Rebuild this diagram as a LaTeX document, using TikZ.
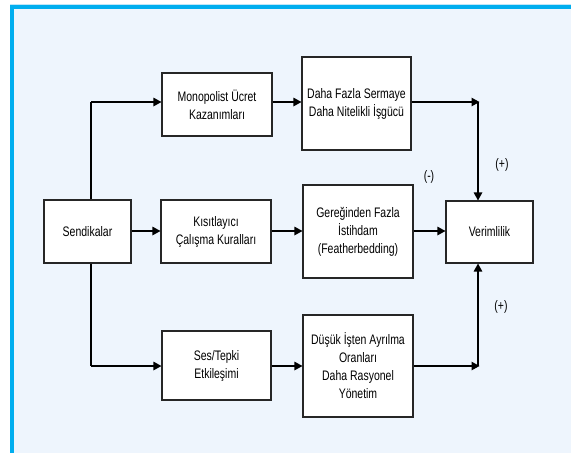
\documentclass[tikz,border=0pt]{standalone}
\usepackage{fontspec}
\setmainfont{Liberation Sans}[FakeStretch=0.76]
\usetikzlibrary{arrows.meta}
\definecolor{bgblue}{HTML}{EEF5FD}
\definecolor{frameblue}{HTML}{00AEEF}
\definecolor{framelight}{HTML}{BFE6F7}
\begin{document}
\begin{tikzpicture}[x=1pt,y=-1pt,
  box/.style={draw=black!85,line width=1.1pt,fill=white,align=center,inner sep=2pt,
    font=\fontsize{13.8}{18}\selectfont},
  conn/.style={draw=black,line width=1.2pt},
  arr/.style={conn,-{Triangle[length=8pt,width=8.5pt]}},
  sign/.style={font=\fontsize{13.8}{15}\selectfont}]
\useasboundingbox (0,0) rectangle (571,453);
% background and frame
\fill[bgblue] (12,6) rectangle (571,453);
\fill[framelight] (10,3.5) rectangle (571,5);
\fill[frameblue] (10,5) rectangle (571,8.5);
\fill[frameblue] (10,5) rectangle (14,453);
% nodes
\node[box,minimum width=87pt,minimum height=63pt] (send) at (87.5,231.5) {Sendikalar};
\node[box,minimum width=110pt,minimum height=63pt] (kis) at (216,231.5) {Kısıtlayıcı\\Çalışma Kuralları};
\node[box,minimum width=110pt,minimum height=63pt] (mono) at (217,104.5) {Monopolist Ücret\\Kazanımları};
\node[box,minimum width=109pt,minimum height=93pt] (daha) at (356.5,103.5) {Daha Fazla Sermaye\\Daha Nitelikli İşgücü};
\node[box,minimum width=110pt,minimum height=93pt] (gere) at (358,231.5) {Gereğinden Fazla\\İstihdam\\(Featherbedding)};
\node[box,minimum width=87pt,minimum height=62pt] (ver) at (489.5,232) {Verimlilik};
\node[box,minimum width=109pt,minimum height=69pt] (ses) at (216.5,365.5) {Ses/Tepki\\Etkileşimi};
\node[box,minimum width=110pt,minimum height=102pt] (dus) at (358,366) {Düşük İşten Ayrılma\\Oranları\\Daha Rasyonel\\Yönetim};
% corner coordinates
\coordinate (lt) at (91,102);
\coordinate (lb) at (91,366);
\coordinate (rt) at (478,102);
\coordinate (rb) at (478,366);
% connectors
\draw[conn] (send.north -| lt) -- (lt);
\draw[arr] (lt) -- (lt -| mono.west);
\draw[conn] (send.south -| lb) -- (lb);
\draw[arr] (lb) -- (lb -| ses.west);
\draw[arr] (send.east |- 0,231) -- (kis.west |- 0,231);
\draw[arr] (kis.east |- 0,231) -- (gere.west |- 0,231);
\draw[arr] (gere.east |- 0,231) -- (ver.west |- 0,231);
\draw[arr] (mono.east |- lt) -- (daha.west |- lt);
\draw[arr] (ses.east |- lb) -- (dus.west |- lb);
\draw[arr] (daha.east |- rt) -- ([xshift=1.5pt]rt);
\draw[arr] (dus.east |- rb) -- ([xshift=1.5pt]rb);
\draw[arr] (rt) -- (rt |- ver.north);
\draw[arr] (rb) -- (rb |- ver.south);
% signs
\node[sign] (minus) at (429,177) {(-)};
\node[sign] (plus1) at (502,165) {(+)};
\node[sign] (plus2) at (501,307) {(+)};
\end{tikzpicture}
\end{document}
